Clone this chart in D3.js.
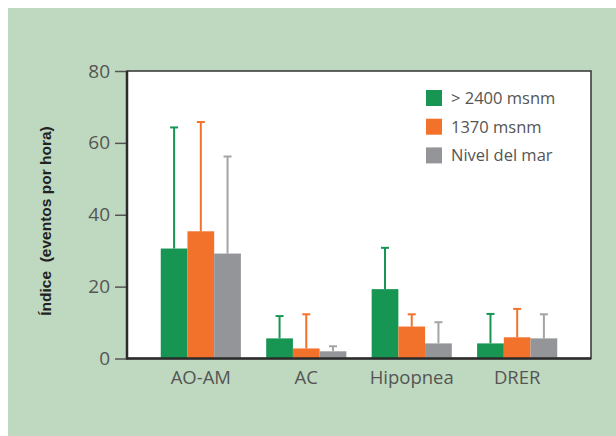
<!DOCTYPE html>
<html>
<head>
<meta charset="utf-8">
<script src="https://cdn.jsdelivr.net/npm/d3@7"></script>
<style>
  body { margin: 0; background: #ffffff; }
  svg { display: block; }
</style>
</head>
<body>
<div id="chart"></div>
<script>
var width = 616;
var height = 436;

// data
var categories = ["AO-AM", "AC", "Hipopnea", "DRER"];
var seriesNames = ["> 2400 msnm", "1370 msnm", "Nivel del mar"];
var seriesColors = ["#179553", "#f3722b", "#939598"];
var errColors = ["#179553", "#f3722b", "#a3a4a7"];
var highValues = [30.6, 5.6, 19.3, 4.2];
var midValues = [35.4, 2.8, 8.9, 5.9];
var seaValues = [29.2, 2.0, 4.2, 5.6];
var highErr = [64.3, 11.8, 30.8, 12.4];
var midErr = [65.8, 12.3, 12.3, 13.8];
var seaErr = [56.2, 3.4, 10.1, 12.3];
var yTicks = [0, 20, 40, 60, 80];

var values = [highValues, midValues, seaValues];
var errs = [highErr, midErr, seaErr];

var rows = [];
categories.forEach(function (c, i) {
  seriesNames.forEach(function (s, j) {
    rows.push({ cat: c, series: s, idx: j, value: values[j][i], err: errs[j][i] });
  });
});

var plot = { left: 127, right: 591, top: 71, bottom: 358.5 };

var svg = d3.select("#chart").append("svg")
  .attr("width", width)
  .attr("height", height);

// green panel
svg.append("rect")
  .attr("x", 8).attr("y", 8)
  .attr("width", width - 8).attr("height", height - 8)
  .attr("fill", "#bfd9c0");

// white plot box
svg.append("rect")
  .attr("x", plot.left).attr("y", plot.top)
  .attr("width", plot.right - plot.left).attr("height", plot.bottom - plot.top)
  .attr("fill", "#ffffff")
  .attr("stroke", "#333")
  .attr("stroke-width", 1.5);

var x0 = d3.scaleBand()
  .domain(categories)
  .range([plot.left, plot.right])
  .paddingInner(0.24)
  .paddingOuter(0.32);

var x1 = d3.scaleBand()
  .domain(seriesNames)
  .range([0, x0.bandwidth()]);

var y = d3.scaleLinear()
  .domain([0, 80])
  .range([plot.bottom, plot.top]);

// bars
svg.append("g").selectAll("rect")
  .data(rows)
  .enter()
  .append("rect")
  .attr("x", function (d) { return x0(d.cat) + x1(d.series); })
  .attr("y", function (d) { return y(d.value); })
  .attr("width", x1.bandwidth())
  .attr("height", function (d) { return y(0) - y(d.value); })
  .attr("fill", function (d) { return seriesColors[d.idx]; });

// error bars
var eg = svg.append("g").selectAll("g")
  .data(rows)
  .enter()
  .append("g")
  .attr("stroke", function (d) { return errColors[d.idx]; })
  .attr("stroke-width", 2);

eg.append("line")
  .attr("x1", function (d) { return x0(d.cat) + x1(d.series) + x1.bandwidth() / 2; })
  .attr("x2", function (d) { return x0(d.cat) + x1(d.series) + x1.bandwidth() / 2; })
  .attr("y1", function (d) { return y(d.value); })
  .attr("y2", function (d) { return y(d.err); });

eg.append("line")
  .attr("x1", function (d) { return x0(d.cat) + x1(d.series) + x1.bandwidth() / 2 - 4; })
  .attr("x2", function (d) { return x0(d.cat) + x1(d.series) + x1.bandwidth() / 2 + 4; })
  .attr("y1", function (d) { return y(d.err); })
  .attr("y2", function (d) { return y(d.err); });

// y axis
var yAxis = d3.axisLeft(y)
  .tickValues(yTicks)
  .tickSize(12)
  .tickPadding(5);

var ya = svg.append("g")
  .attr("transform", "translate(" + plot.left + ",0)")
  .call(yAxis);
ya.select(".domain").remove();
ya.selectAll(".tick line").attr("stroke", "#555").attr("stroke-width", 1.5);
ya.selectAll(".tick text")
  .attr("fill", "#555")
  .style("font-family", "'Open Sans', sans-serif")
  .style("font-size", "19px");

// x axis
var xAxis = d3.axisBottom(x0).tickSize(0).tickPadding(12);
var xa = svg.append("g")
  .attr("transform", "translate(0," + plot.bottom + ")")
  .call(xAxis);
xa.select(".domain").remove();
xa.selectAll(".tick text")
  .attr("fill", "#555")
  .style("font-family", "'Open Sans', sans-serif")
  .style("font-size", "18.5px");

// axis lines
svg.append("line")
  .attr("x1", plot.left).attr("x2", plot.left)
  .attr("y1", plot.top).attr("y2", plot.bottom + 1)
  .attr("stroke", "#2b2b2b").attr("stroke-width", 2.5);
svg.append("line")
  .attr("x1", plot.left).attr("x2", plot.right)
  .attr("y1", plot.bottom).attr("y2", plot.bottom)
  .attr("stroke", "#2b2b2b").attr("stroke-width", 2.5);

// y title
svg.append("text")
  .attr("transform", "translate(50.5,221) rotate(-90)")
  .attr("text-anchor", "middle")
  .attr("fill", "#222")
  .style("font-family", "'Liberation Sans', Arial, sans-serif")
  .style("font-weight", "bold")
  .style("font-size", "15.5px")
  .attr("xml:space", "preserve")
  .text("Índice  (eventos por hora)");

// legend
var legend = svg.append("g").selectAll("g")
  .data(seriesNames)
  .enter()
  .append("g")
  .attr("transform", function (d, i) { return "translate(426," + (90 + i * 28.7) + ")"; });

legend.append("rect")
  .attr("width", 16).attr("height", 16)
  .attr("fill", function (d, i) { return seriesColors[i]; });

legend.append("text")
  .attr("x", 25).attr("y", 14)
  .attr("fill", "#555")
  .style("font-family", "'Open Sans', sans-serif")
  .style("font-size", "16.5px")
  .text(function (d) { return d; });
</script>
</body>
</html>
